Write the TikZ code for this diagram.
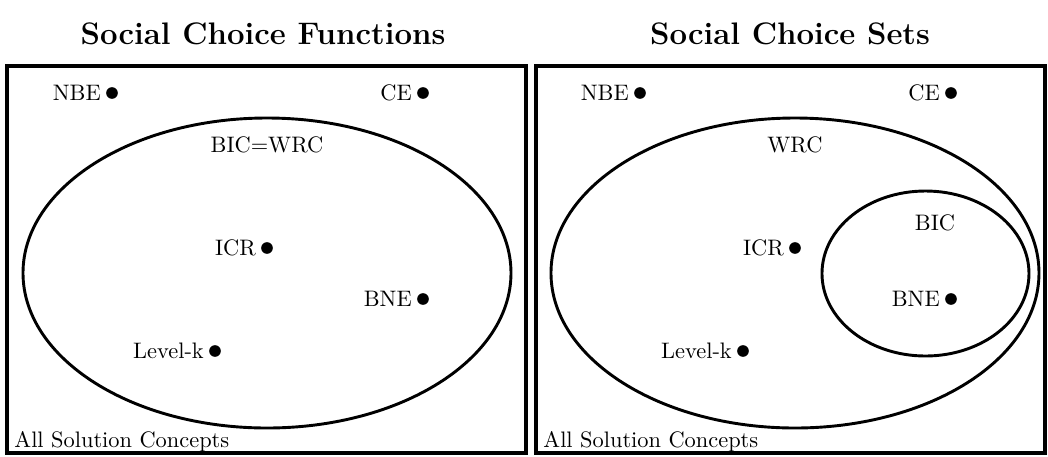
\documentclass[tikz,border=0pt]{standalone}
\begin{document}
\begin{tikzpicture}[x=0.4464pt,y=-0.4464pt,
  frame/.style={line width=1.6pt},
  setline/.style={line width=1.3pt},
  dot/.style={circle,fill=black,inner sep=0pt,minimum size=5.2pt},
  lbl/.style={font=\fontsize{10}{12}\selectfont,inner sep=2pt},
  ttl/.style={font=\bfseries\fontsize{13.9}{16}\selectfont},
  txt/.style={font=\fontsize{10}{12}\selectfont,inner sep=0pt}]
\useasboundingbox (0,0) rectangle (1048,456);
% titles
\node[ttl] (t1) at (263,34) {Social Choice Functions};
\node[ttl] (t2) at (790,34) {Social Choice Sets};
% frames
\draw[frame] (7,66) rectangle (526,453);
\draw[frame] (536,66) rectangle (1045,453);
% ellipses
\draw[setline] (267,273) ellipse [x radius=244, y radius=155];
\draw[setline] (795,273) ellipse [x radius=244, y radius=155];
\draw[setline] (925.5,273.5) ellipse [x radius=103.5, y radius=82.5];
% left panel
\node[dot,label={[lbl]left:NBE}] (nbeL) at (112,93) {};
\node[dot,label={[lbl]left:CE}] (ceL) at (423,93) {};
\node[dot,label={[lbl]left:ICR}] (icrL) at (267,248) {};
\node[dot,label={[lbl]left:BNE}] (bneL) at (423,299) {};
\node[dot,label={[lbl]left:Level-k}] (lvlL) at (215,351) {};
\node[txt] (bicwrc) at (267,145) {BIC=WRC};
\node[txt,anchor=base west] (allL) at (14,447) {All Solution Concepts};
% right panel
\node[dot,label={[lbl]left:NBE}] (nbeR) at (640,93) {};
\node[dot,label={[lbl]left:CE}] (ceR) at (951,93) {};
\node[dot,label={[lbl]left:ICR}] (icrR) at (795,248) {};
\node[dot,label={[lbl]left:BNE}] (bneR) at (951,299) {};
\node[dot,label={[lbl]left:Level-k}] (lvlR) at (743,351) {};
\node[txt] (wrc) at (795,145) {WRC};
\node[txt] (bic) at (935,223) {BIC};
\node[txt,anchor=base west] (allR) at (543,447) {All Solution Concepts};
\end{tikzpicture}
\end{document}
